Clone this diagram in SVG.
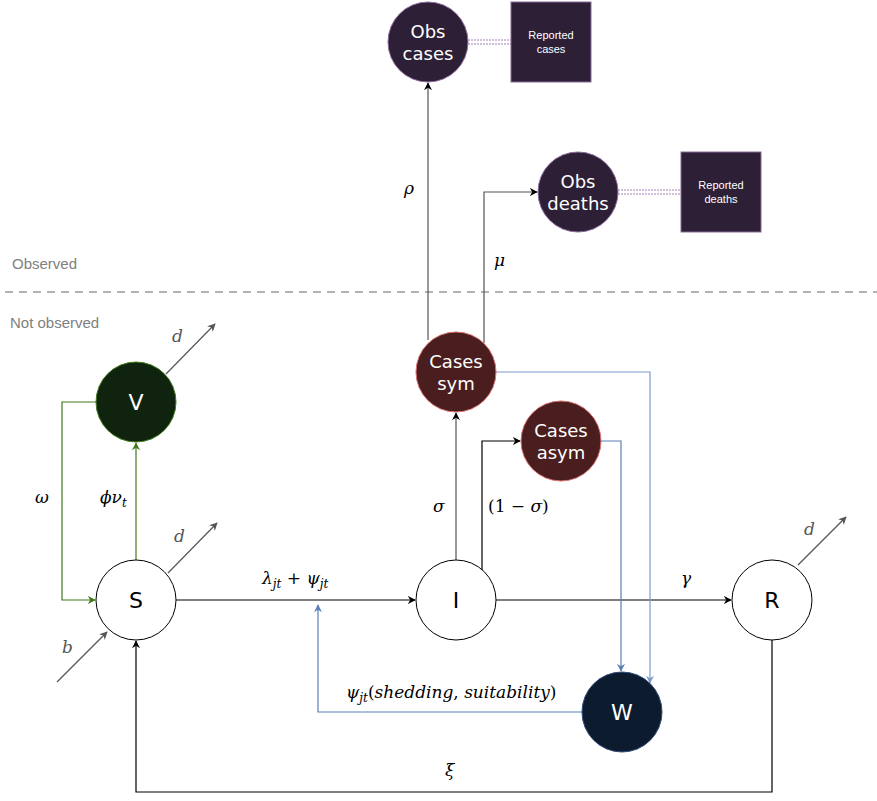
<svg xmlns="http://www.w3.org/2000/svg" width="877" height="801" viewBox="0 0 877 801">
<defs>
<style>
.conn{fill:none;stroke-width:1.2}
.k{stroke:#000}
.g{stroke:#555}
.gr{stroke:#3f7a1c}
.bl{stroke:#5b7fb5}
.bl2{stroke:#7f9cc8}
.math{font-family:"DejaVu Serif","Liberation Serif",serif;font-style:italic;font-size:17px;fill:#000}
.mathg{font-family:"DejaVu Serif","Liberation Serif",serif;font-style:italic;font-size:17px;fill:#555}
.nl{font-family:"DejaVu Sans",sans-serif;font-size:18px;fill:#fff;text-anchor:middle}
.big{font-size:22px}
.nlb{font-family:"DejaVu Sans",sans-serif;font-size:22px;fill:#000;text-anchor:middle}
.rep{font-family:"Liberation Sans",Arial,sans-serif;font-size:11px;fill:#fff;text-anchor:middle}
.lbl{font-family:"Liberation Sans",Arial,sans-serif;font-size:15px;fill:#808080}
</style>
<marker id="ak" viewBox="0 0 10 10" refX="9" refY="5" markerWidth="8" markerHeight="8" orient="auto" markerUnits="userSpaceOnUse"><path d="M0,0 L10,5 L0,10 L3,5 z" fill="#000"/></marker>
<marker id="ag" viewBox="0 0 10 10" refX="9" refY="5" markerWidth="8" markerHeight="8" orient="auto" markerUnits="userSpaceOnUse"><path d="M0,0 L10,5 L0,10 L3,5 z" fill="#555"/></marker>
<marker id="agr" viewBox="0 0 10 10" refX="9" refY="5" markerWidth="8" markerHeight="8" orient="auto" markerUnits="userSpaceOnUse"><path d="M0,0 L10,5 L0,10 L3,5 z" fill="#3f7a1c"/></marker>
<marker id="abl" viewBox="0 0 10 10" refX="9" refY="5" markerWidth="8" markerHeight="8" orient="auto" markerUnits="userSpaceOnUse"><path d="M0,0 L10,5 L0,10 L3,5 z" fill="#5b7fb5"/></marker>
<marker id="abl2" viewBox="0 0 10 10" refX="9" refY="5" markerWidth="8" markerHeight="8" orient="auto" markerUnits="userSpaceOnUse"><path d="M0,0 L10,5 L0,10 L3,5 z" fill="#7f9cc8"/></marker>
</defs>

<!-- region labels -->
<text class="lbl" x="12" y="269">Observed</text>
<line x1="5" y1="292" x2="877" y2="292" stroke="#666" stroke-width="1" stroke-dasharray="8,6"/>
<text class="lbl" x="10" y="328">Not observed</text>

<g id="connectors">
<!-- S -> I -->
<path class="conn k" d="M176,600 H415" marker-end="url(#ak)"/>
<!-- I -> R -->
<path class="conn k" d="M496,600 H731" marker-end="url(#ak)"/>
<!-- I -> Cases sym -->
<path class="conn g" d="M456,560 V413" marker-end="url(#ak)"/>
<!-- I -> Cases asym -->
<path class="conn k" d="M482,570 V441 H520" marker-end="url(#ak)"/>
<!-- Cases sym -> Obs cases -->
<path class="conn g" d="M428,340 V83" marker-end="url(#ak)"/>
<!-- Cases sym -> Obs deaths -->
<path class="conn g" d="M484,343 V192 H537" marker-end="url(#ak)"/>
<!-- Cases sym -> W -->
<path class="conn bl2" d="M496,372 H650 V683" marker-end="url(#abl2)"/>
<!-- Cases asym -> W -->
<path class="conn bl" d="M601,441 H621 V671" marker-end="url(#abl)"/>
<!-- W -> S-I edge -->
<path class="conn bl" d="M582,712 H318 V605" marker-end="url(#abl)"/>
<!-- R -> S -->
<path class="conn k" d="M772,640 V792 H136 V641" marker-end="url(#ak)"/>
<!-- S -> V -->
<path class="conn gr" d="M136,560 V443" marker-end="url(#agr)"/>
<!-- V -> S -->
<path class="conn gr" d="M96,402 H62 V600 H95" marker-end="url(#agr)"/>
<!-- death / birth arrows -->
<path class="conn g" d="M166,374 L215,324" marker-end="url(#ag)"/>
<path class="conn g" d="M168,573 L217,523" marker-end="url(#ag)"/>
<path class="conn g" d="M798,565 L846,517" marker-end="url(#ag)"/>
<path class="conn g" d="M57,682 L107,632" marker-end="url(#ag)"/>
<!-- report links -->
<path d="M468,40 H511 M468,44 H511" stroke="#a680b8" stroke-width="1" stroke-dasharray="2,1" fill="none"/>
<path d="M618,190 H681 M618,194 H681" stroke="#a680b8" stroke-width="1" stroke-dasharray="2,1" fill="none"/>

<!-- labels -->
<text class="math" x="262" y="584">λ<tspan font-size="12" dy="4">jt</tspan><tspan dy="-4" font-style="normal"> + </tspan>ψ<tspan font-size="12" dy="4">jt</tspan></text>
<text class="math" x="681" y="584">γ</text>
<text class="math" x="433" y="512">σ</text>
<text class="math" x="488" y="512"><tspan font-style="normal">(1 − </tspan>σ<tspan font-style="normal">)</tspan></text>
<text class="math" x="404" y="194">ρ</text>
<text class="math" x="494" y="266">μ</text>
<text class="math" x="346" y="698">ψ<tspan font-size="12" dy="4">jt</tspan><tspan dy="-4" font-style="normal">(</tspan>shedding<tspan font-style="normal">, </tspan>suitability<tspan font-style="normal">)</tspan></text>
<text class="math" x="445" y="776">ξ</text>
<text class="math" x="100" y="503">ϕν<tspan font-size="12" dy="4">t</tspan></text>
<text class="math" x="35" y="503">ω</text>
<text class="mathg" x="172" y="342">d</text>
<text class="mathg" x="174" y="542">d</text>
<text class="mathg" x="804" y="535">d</text>
<text class="mathg" x="62" y="653">b</text>
</g>

<g id="obs_cases">
<circle cx="428" cy="42" r="40" fill="#2d1f36" stroke="#8a6a9a" stroke-width="1"/>
<text class="nl" x="428" y="38">Obs</text>
<text class="nl" x="428" y="60">cases</text>
</g>
<g id="reported_cases">
<rect x="511" y="2" width="80" height="80" fill="#2d1f36" stroke="#8a6a9a" stroke-width="1"/>
<text class="rep" x="551" y="39">Reported</text>
<text class="rep" x="551" y="53">cases</text>
</g>
<g id="obs_deaths">
<circle cx="578" cy="192" r="40" fill="#2d1f36" stroke="#8a6a9a" stroke-width="1"/>
<text class="nl" x="578" y="188">Obs</text>
<text class="nl" x="578" y="210">deaths</text>
</g>
<g id="reported_deaths">
<rect x="681" y="152" width="80" height="80" fill="#2d1f36" stroke="#8a6a9a" stroke-width="1"/>
<text class="rep" x="721" y="189">Reported</text>
<text class="rep" x="721" y="203">deaths</text>
</g>
<g id="cases_sym">
<circle cx="456" cy="372" r="40" fill="#4a1e1e" stroke="#d87070" stroke-width="1"/>
<text class="nl" x="456" y="368">Cases</text>
<text class="nl" x="456" y="390">sym</text>
</g>
<g id="cases_asym">
<circle cx="561" cy="441" r="40" fill="#4a1e1e" stroke="#d87070" stroke-width="1"/>
<text class="nl" x="561" y="437">Cases</text>
<text class="nl" x="561" y="459">asym</text>
</g>
<g id="V">
<circle cx="136" cy="402" r="40" fill="#0f230f" stroke="#3f7a1c" stroke-width="1"/>
<text class="nl big" x="136" y="410">V</text>
</g>
<g id="S">
<circle cx="136" cy="600" r="40" fill="#fff" stroke="#000" stroke-width="1"/>
<text class="nlb" x="136" y="608">S</text>
</g>
<g id="I">
<circle cx="456" cy="600" r="40" fill="#fff" stroke="#000" stroke-width="1"/>
<text class="nlb" x="456" y="608">I</text>
</g>
<g id="R">
<circle cx="772" cy="600" r="40" fill="#fff" stroke="#000" stroke-width="1"/>
<text class="nlb" x="772" y="608">R</text>
</g>
<g id="W">
<circle cx="622" cy="712" r="40" fill="#0d1b2e" stroke="#2e4a7a" stroke-width="1"/>
<text class="nl big" x="622" y="720">W</text>
</g>
</svg>
